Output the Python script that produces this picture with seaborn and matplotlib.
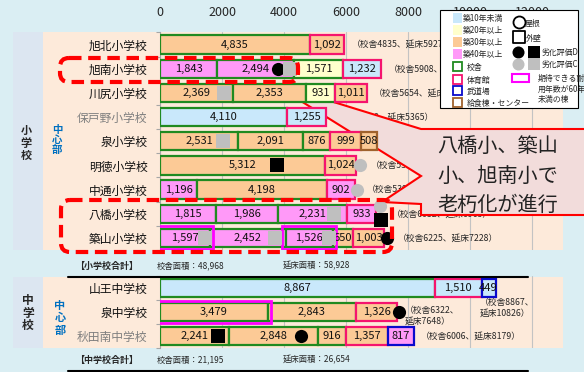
import numpy as np
import matplotlib.pyplot as plt
import seaborn as sns
from matplotlib.transforms import Affine2D
from matplotlib.patches import Rectangle, Polygon, FancyBboxPatch
from matplotlib.lines import Line2D

W, H = 584, 372

# ---- data: elementary schools ----
elem_schools = ['旭北小学校', '旭南小学校', '川尻小学校', '保戸野小学校', '泉小学校',
                '明徳小学校', '中通小学校', '八橋小学校', '築山小学校']
elem_values = [[4835, 1092], [1843, 2494, 1571, 1232], [2369, 2353, 931, 1011],
               [4110, 1255], [2531, 2091, 876, 999, 508], [5312, 1024],
               [1196, 4198, 902], [1815, 1986, 2231, 933], [1597, 2452, 1526, 650, 1003]]
# age class of each building (10 = under 10 years, 20/30/40 = over N years)
elem_age = [[30, 30], [40, 40, 20, 10], [30, 30, 20, 30], [10, 10], [30, 30, 30, 30, 30],
            [30, 30], [40, 30, 40], [40, 40, 40, 40], [40, 40, 40, 30, 30]]
# building type: S=school bldg, G=gym, B=budo hall, K=kitchen
elem_kind = [['S', 'G'], ['S', 'S', 'S', 'G'], ['S', 'S', 'S', 'G'], ['S', 'G'],
             ['S', 'S', 'S', 'G', 'K'], ['S', 'G'], ['S', 'S', 'G'], ['S', 'S', 'S', 'G'],
             ['S', 'S', 'S', 'S', 'G']]
elem_short60 = [(8, 0), (8, 2)]
# (row, x position, shape, grade, row nudge)
elem_marks = [(1, 3800, 'o', 'D', 0), (1, 4200, 's', 'C', 0), (2, 2050, 's', 'C', 0),
              (4, 2030, 's', 'C', 0), (5, 3770, 's', 'D', 0), (5, 6450, 'o', 'C', 0),
              (6, 6340, 'o', 'C', 0), (7, 5610, 's', 'C', 0), (7, 7100, 'o', 'C', -0.3),
              (7, 7140, 's', 'D', 0.25), (8, 1460, 's', 'C', 0), (8, 3700, 's', 'C', 0),
              (8, 5450, 's', 'C', 0), (8, 7320, 'o', 'D', 0)]
elem_notes = ['（校舎4835、延床5927）', '（校舎5908、延床7140）', '（校舎5654、延床6665）',
              '（校舎4110、延床5365）', '（校舎5498、延床7005）', '（校舎5312、延床6336）',
              '（校舎5394、延床6296）', '（校舎6032、延床6965）', '（校舎6225、延床7228）']
elem_gray = ['保戸野小学校']

# ---- data: junior high schools ----
jr_schools = ['山王中学校', '泉中学校', '秋田南中学校']
jr_values = [[8867, 1510, 449], [3479, 2843, 1326], [2241, 2848, 916, 1357, 817]]
jr_age = [[10, 10, 10], [30, 30, 30], [30, 30, 30, 30, 40]]
jr_kind = [['S', 'G', 'B'], ['S', 'S', 'G'], ['S', 'S', 'S', 'G', 'B']]
jr_short60 = [(1, 0)]
jr_marks = [(1, 7700, 'o', 'D', 0), (2, 1870, 's', 'D', 0), (2, 4550, 'o', 'D', 0)]
jr_notes = ['（校舎8867、\n延床10826）', '（校舎6322、\n延床7648）', '（校舎6006、延床8179）']
jr_gray = ['秋田南中学校']

elem_total = ['【小学校合計】', '校舎面積：48,968', '延床面積：58,928']
jr_total = ['【中学校合計】', '校舎面積：21,195', '延床面積：26,654']

age_colors = {10: '#c9e8fb', 20: '#ffffcc', 30: '#fcca96', 40: '#ff99f8'}
age_labels = {10: '築10年未満', 20: '築20年以上', 30: '築30年以上', 40: '築40年以上'}
kind_colors = {'S': '#208a20', 'G': '#f5146e', 'B': '#0a0acc', 'K': '#a0622d'}
kind_labels = {'S': '校舎', 'G': '体育館', 'B': '武道場', 'K': '給食棟・センター'}
grade_colors = {'D': 'black', 'C': '#bfbfbf'}

sns.set_theme(style='white')
plt.rcParams['font.family'] = ['Noto Sans CJK JP', 'DejaVu Sans']

fig = plt.figure(figsize=(W / 100, H / 100), dpi=100)
fig.patch.set_facecolor('#daeef3')
# pixel coordinates, origin top-left
px = Affine2D().scale(1 / W, -1 / H).translate(0, 1) + fig.transFigure


def panel(x0, y0, x1, y1, color):
    fig.patches.append(Rectangle((x0, y0), x1 - x0, y1 - y0, transform=px,
                                 fc=color, ec='none', zorder=-1))


panel(13, 32, 43, 250, '#dce6f1')
panel(43, 32, 563, 250, '#fdeada')
panel(13, 277, 43, 348, '#dce6f1')
panel(43, 277, 563, 348, '#fdeada')

ax1 = fig.add_axes([160 / W, 1 - 250 / H, 403 / W, 217.5 / H])
ax2 = fig.add_axes([160 / W, 1 - 348 / H, 403 / W, 72 / H])


def draw_rows(ax, names, values, ages, kinds, short60, marks, gray):
    n = len(names)
    for i, (vals, ag, kd) in enumerate(zip(values, ages, kinds)):
        starts = np.concatenate([[0], np.cumsum(vals)[:-1]])
        for j, (left, v, a, k) in enumerate(zip(starts, vals, ag, kd)):
            bar = ax.barh(i, v, left=left, height=0.76, color=age_colors[a],
                          edgecolor=kind_colors[k], linewidth=1.6, zorder=3)[0]
            t = ax.text(left + v / 2, i, f'{v:,}', ha='center', va='center',
                        fontsize=8, color='#111111', zorder=5)
            t.set_clip_path(bar)
            if (i, j) in short60:
                ax.barh(i, v + 200, left=left - 100, height=0.95, color='none',
                        edgecolor='#ff00ff', linewidth=2, zorder=4)
    for row, x, shape, grade, dy in marks:
        ax.scatter([x], [row + dy], marker=shape, s=100 if shape == 's' else 90,
                   color=grade_colors[grade], linewidths=0, zorder=6, clip_on=False)
    ax.set_ylim(n - 0.5, -0.5)
    ax.set_xlim(0, 13000)
    ax.set_facecolor('none')
    ax.set_xticks(range(0, 13000, 2000))
    ax.grid(axis='x', color='#c3c3c3', linewidth=0.8)
    ax.grid(axis='y', visible=False)
    ax.set_yticks(range(n))
    ax.set_yticklabels(names, fontsize=8.5)
    for lab in ax.get_yticklabels():
        lab.set_color('#7f7f7f' if lab.get_text() in gray else '#111111')
    ax.set_yticks(np.arange(-0.5, n), minor=True)
    ax.tick_params(axis='y', which='major', length=0, pad=9)
    ax.tick_params(axis='y', which='minor', left=True, length=3, color='#a6a6a6', width=0.8)
    sns.despine(ax=ax, top=True, right=True, bottom=True)
    ax.spines['left'].set_color('#a6a6a6')
    ax.spines['left'].set_linewidth(0.8)


draw_rows(ax1, elem_schools, elem_values, elem_age, elem_kind, elem_short60,
          elem_marks, elem_gray)
draw_rows(ax2, jr_schools, jr_values, jr_age, jr_kind, jr_short60, jr_marks, jr_gray)

ax1.xaxis.tick_top()
ax1.tick_params(axis='x', length=0, pad=10, labelsize=9)
ax2.tick_params(axis='x', bottom=False, labelbottom=False)

# notes after each bar
for ax, values, marks, notes in [(ax1, elem_values, elem_marks, elem_notes),
                                 (ax2, jr_values, jr_marks, jr_notes)]:
    for i, (vals, note) in enumerate(zip(values, notes)):
        end = sum(vals)
        mx = [m[1] for m in marks if m[0] == i and m[1] > end - 300]
        x = max([end] + [m + 100 for m in mx]) + 250
        if ax is ax2 and i == 0:
            # too long for the panel: wrap under the bar end
            ax.text(end - 500, i + 0.4, note, fontsize=6.3, va='top', ha='left',
                    linespacing=1.3, zorder=2)
        elif '\n' in note:
            ax.text(x - 150, i - 0.25, note, fontsize=6.3, va='top', ha='left',
                    linespacing=1.3, zorder=2, clip_on=False)
        else:
            ax.text(x, i, note, fontsize=6.3, va='center', ha='left', zorder=2,
                    clip_on=False)

# red dashed focus boxes
for x0, y0, x1, y1 in [(60, 58, 298, 82), (61, 200, 392, 252)]:
    ax1.add_patch(FancyBboxPatch((x0, y0), x1 - x0, y1 - y0, transform=px,
                                 boxstyle='round,pad=0,rounding_size=9', fc='none',
                                 ec='#ff0000', lw=3, linestyle=(0, (3, 1.6)),
                                 clip_on=False, zorder=8))

# callout
ax1.add_patch(Polygon([(421, 129), (272, 83), (421, 176), (382, 202), (421, 204),
                       (421, 215), (600, 215), (600, 129)], closed=True, transform=px,
                      fc='#f2dcdb', ec='#ff0000', lw=1.5, clip_on=False, zorder=2.5))
ax1.text(437, 176, '八橋小、築山\n小、旭南小で\n老朽化が進行', transform=px,
         fontsize=14.5, ha='left', va='center', linespacing=1.55, color='#222222',
         zorder=7)

# legend box
lfs = 5.7
ax1.add_patch(Rectangle((440, 10), 138, 98, transform=px, fc='white', ec='black',
                        lw=0.8, clip_on=False, zorder=10))
for y, a in zip([18, 30, 42, 54], [10, 20, 30, 40]):
    ax1.add_patch(Rectangle((453, y - 5), 9, 10, transform=px, fc=age_colors[a],
                            ec='none', clip_on=False, zorder=11))
    ax1.text(463, y, age_labels[a], transform=px, fontsize=lfs, va='center', zorder=12)
for y, k in zip([67, 80, 91, 103], ['S', 'G', 'B', 'K']):
    ax1.add_patch(Rectangle((453, y - 5), 9, 9, transform=px, fc='none',
                            ec=kind_colors[k], lw=1.3, clip_on=False, zorder=11))
    ax1.text(467, y, kind_labels[k], transform=px, fontsize=lfs, va='center', zorder=12)
ax1.scatter([519], [22], transform=px, marker='o', s=75, facecolors='white',
            edgecolors='black', linewidths=1.3, clip_on=False, zorder=11)
ax1.text(525, 23, '屋根', transform=px, fontsize=lfs, va='center', zorder=12)
ax1.scatter([519], [37], transform=px, marker='s', s=70, facecolors='white',
            edgecolors='black', linewidths=1.3, clip_on=False, zorder=11)
ax1.text(526, 39, '外壁', transform=px, fontsize=lfs, va='center', zorder=12)
for y, g in zip([52, 64], ['D', 'C']):
    ax1.scatter([518], [y], transform=px, marker='o', s=75, color=grade_colors[g],
                linewidths=0, clip_on=False, zorder=11)
    ax1.scatter([534], [y], transform=px, marker='s', s=85, color=grade_colors[g],
                linewidths=0, clip_on=False, zorder=11)
    ax1.text(542, y, '劣化評価' + g, transform=px, fontsize=lfs, va='center', zorder=12)
ax1.add_patch(Rectangle((512, 74), 17, 8, transform=px, fc='none', ec='#ff00ff',
                        lw=1.5, clip_on=False, zorder=11))
ax1.text(538, 89, '期待できる耐\n用年数が60年\n未満の棟', transform=px, fontsize=lfs,
         va='center', linespacing=1.2, zorder=12)

# side labels
fig.text(26, 143, '小\n学\n校', transform=px, fontsize=8, fontweight='bold',
         ha='center', va='center', linespacing=0.95)
fig.text(57, 140, '中\n心\n部', transform=px, fontsize=7.5, fontweight='bold',
         color='#0070c0', ha='center', va='center', linespacing=0.95)
fig.text(28, 313, '中\n学\n校', transform=px, fontsize=8.5, fontweight='bold',
         ha='center', va='center', linespacing=0.95)
fig.text(60, 318, '中\n心\n部', transform=px, fontsize=8, fontweight='bold',
         color='#0070c0', ha='center', va='center', linespacing=0.95)

# totals
for y, items in [(266, elem_total), (360, jr_total)]:
    fig.text(75, y, items[0], transform=px, fontsize=6.5, fontweight='bold', va='center')
    fig.text(157, y, items[1], transform=px, fontsize=6, va='center')
    fig.text(283, y, items[2], transform=px, fontsize=6, va='center')
for y in [277, 371]:
    fig.lines.append(Line2D([68, 528], [y, y], transform=px, color='black', lw=1.5))

fig.savefig('out.png', dpi=100, facecolor=fig.get_facecolor())
